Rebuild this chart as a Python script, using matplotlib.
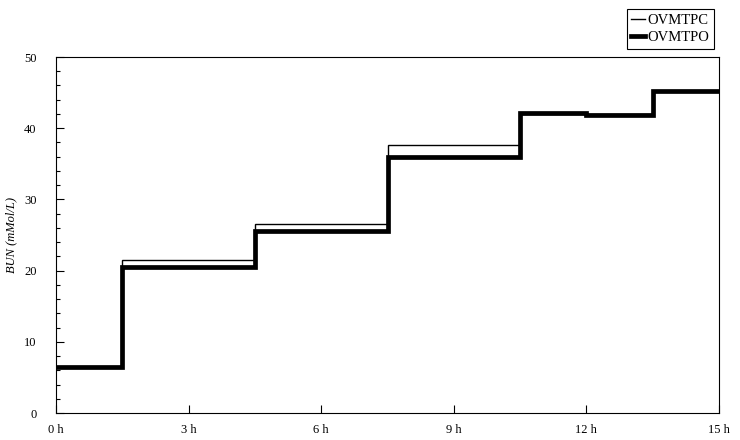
import numpy as np
import matplotlib
matplotlib.use('Agg')
import matplotlib.pyplot as plt
from matplotlib.ticker import MultipleLocator

# 数据：阶梯边界（小时）与各段的 BUN 值
edges = [0, 1.5, 4.5, 7.5, 10.5, 12, 13.5, 15]
ovmtpc = [6.5, 21.5, 26.5, 37.6, 42.0, 42.0, 45.2]
ovmtpo = [6.5, 20.5, 25.6, 35.9, 42.2, 41.9, 45.2]
xticks = [0, 3, 6, 9, 12, 15]
xticklabels = ['0 h', '3 h', '6 h', '9 h', '12 h', '15 h']

plt.rcParams['font.family'] = ['Liberation Serif', 'DejaVu Serif']

fig = plt.figure(figsize=(7.4, 4.4), dpi=100)
ax = fig.add_axes([56 / 740, 1 - 413 / 440, (719 - 56) / 740, (413 - 57) / 440])

ax.stairs(ovmtpo, edges, baseline=None, color='black', linewidth=3.4, label='OVMTPO')
ax.stairs(ovmtpc, edges, baseline=None, color='black', linewidth=1.0, label='OVMTPC')

ax.set_xlim(0, 15)
ax.set_ylim(0, 50)
ax.set_xticks(xticks)
ax.set_xticklabels(xticklabels)
ax.yaxis.set_major_locator(MultipleLocator(10))
ax.yaxis.set_minor_locator(MultipleLocator(2))
ax.tick_params(axis='both', which='major', direction='in', length=6, width=0.8, labelsize=9, pad=8)
ax.tick_params(axis='y', which='minor', direction='in', length=3, width=0.8)
ax.tick_params(axis='y', pad=14)
ax.set_ylabel('BUN (mMol/L)', fontstyle='italic', fontsize=9, labelpad=5)
for s in ax.spines.values():
    s.set_linewidth(0.8)

h, l = ax.get_legend_handles_labels()
leg = fig.legend(h[::-1], l[::-1], loc='upper right', bbox_to_anchor=(721 / 740, 1 - 2 / 440),
                 fontsize=10.5, handlelength=0.9, handletextpad=0.2, borderpad=0.3,
                 labelspacing=0.3, fancybox=False, framealpha=1, edgecolor='black')
leg.get_frame().set_linewidth(0.8)

plt.savefig('out.png', dpi=100)
